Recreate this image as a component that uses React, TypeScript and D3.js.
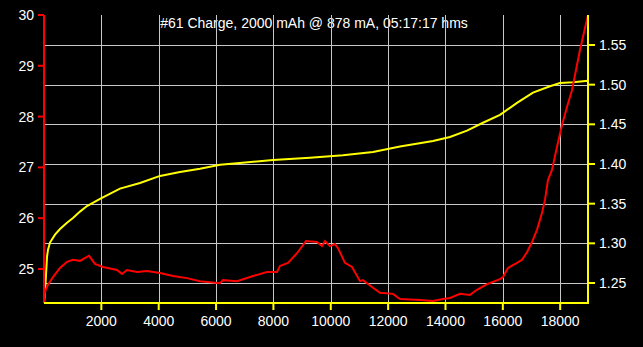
import React, { useEffect, useRef } from "react";
import { select, scaleLinear, line } from "d3";

const W = 643;
const H = 347;

const title = "#61 Charge, 2000 mAh @ 878 mA, 05:17:17 hms";

// time in seconds
const timeTicks = [2000, 4000, 6000, 8000, 10000, 12000, 14000, 16000, 18000];
const tempTicks = [25, 26, 27, 28, 29, 30];
const voltTicks = [1.25, 1.3, 1.35, 1.4, 1.45, 1.5, 1.55];

// voltage curve (yellow, right axis)
const voltTime = [
  0, 35, 105, 140, 209, 384, 558, 802, 1011, 1255, 1499, 1953, 2650, 3348, 4045,
  4742, 5440, 6137, 6730, 7985, 9275, 10426, 11472, 12414, 13564, 14157, 14750,
  15308, 15901, 16494, 17052, 17644, 17993, 18446, 18970,
];
const voltValues = [
  1.225, 1.238, 1.283, 1.292, 1.301, 1.311, 1.318, 1.326, 1.332, 1.34, 1.347,
  1.356, 1.369, 1.376, 1.385, 1.39, 1.394, 1.399, 1.401, 1.405, 1.408, 1.411,
  1.415, 1.422, 1.429, 1.434, 1.442, 1.452, 1.462, 1.477, 1.49, 1.498, 1.502,
  1.503, 1.505,
];

// temperature curve (red, left axis)
const tempTime = [
  0, 35, 139, 314, 558, 802, 1011, 1255, 1499, 1569, 1778, 2057, 2546, 2720,
  2894, 3243, 3592, 4045, 4498, 4986, 5440, 6137, 6242, 6730, 7288, 7776, 8125,
  8230, 8508, 8822, 9136, 9520, 9694, 9799, 9973, 10147, 10252, 10496, 10740,
  11019, 11123, 11472, 11716, 12170, 12414, 13111, 13564, 13913, 14157, 14506,
  14855, 15099, 15448, 15901, 16006, 16180, 16494, 16668, 16842, 17017, 17191,
  17365, 17470, 17574, 17714, 17888, 18063, 18237, 18411, 18690, 18970,
];
const tempValues = [
  24.39, 24.55, 24.69, 24.84, 25.02, 25.14, 25.18, 25.16, 25.24, 25.26, 25.1,
  25.04, 24.98, 24.9, 24.98, 24.94, 24.96, 24.92, 24.86, 24.82, 24.76, 24.72,
  24.78, 24.76, 24.86, 24.94, 24.94, 25.06, 25.12, 25.31, 25.55, 25.53, 25.45,
  25.55, 25.45, 25.49, 25.41, 25.12, 25.04, 24.76, 24.78, 24.63, 24.53, 24.51,
  24.41, 24.39, 24.37, 24.41, 24.43, 24.51, 24.49, 24.59, 24.7, 24.8, 24.84,
  25.02, 25.12, 25.18, 25.33, 25.53, 25.77, 26.1, 26.36, 26.75, 26.95, 27.4,
  27.83, 28.19, 28.52, 29.31, 30.0,
];

function App() {
  const svgRef = useRef<SVGSVGElement>(null);

  useEffect(() => {
    const svg = select(svgRef.current);
    svg.selectAll("*").remove();

    const left = 44;
    const right = 588;
    const top = 15;
    const bottom = 303;

    const x = scaleLinear().domain([0, 18970]).range([left, right]);
    const yT = scaleLinear().domain([24.33, 30]).range([bottom, top]);
    const yV = scaleLinear().domain([1.2248, 1.5878]).range([bottom, top]);

    svg.append("rect").attr("width", W).attr("height", H).attr("fill", "#000");

    svg
      .append("text")
      .attr("x", 314)
      .attr("y", 28)
      .attr("text-anchor", "middle")
      .attr("fill", "#fff")
      .style("font", "14px 'Liberation Sans', Arial, sans-serif")
      .text(title);

    // grid
    const grid = svg.append("g").attr("stroke", "#c8c8c8").attr("stroke-width", 1);
    timeTicks.forEach((t) => {
      const px = Math.round(x(t)) + 0.5;
      grid.append("line").attr("x1", px).attr("x2", px).attr("y1", top).attr("y2", bottom);
    });
    voltTicks.forEach((v) => {
      const py = Math.round(yV(v)) + 0.5;
      grid.append("line").attr("x1", left).attr("x2", right).attr("y1", py).attr("y2", py);
    });

    // curves
    const vData = voltTime.map((t, i) => [t, voltValues[i]] as [number, number]);
    const tData = tempTime.map((t, i) => [t, tempValues[i]] as [number, number]);

    svg
      .append("path")
      .datum(vData)
      .attr("fill", "none")
      .attr("stroke", "#ffff00")
      .attr("stroke-width", 2)
      .attr("d", line<[number, number]>().x((d) => x(d[0])).y((d) => yV(d[1])));

    svg
      .append("path")
      .datum(tData)
      .attr("fill", "none")
      .attr("stroke", "#ff0000")
      .attr("stroke-width", 2)
      .attr("d", line<[number, number]>().x((d) => x(d[0])).y((d) => yT(d[1])));

    const font = "14px 'Liberation Sans', Arial, sans-serif";

    // left axis (red)
    svg.append("line").attr("x1", left).attr("x2", left).attr("y1", top).attr("y2", bottom)
      .attr("stroke", "#ff0000").attr("stroke-width", 2);
    tempTicks.forEach((v) => {
      const py = yT(v);
      svg.append("line").attr("x1", left - 6).attr("x2", left).attr("y1", py).attr("y2", py)
        .attr("stroke", "#ff0000").attr("stroke-width", 2);
      svg.append("text").attr("x", left - 10).attr("y", py + 5).attr("text-anchor", "end")
        .attr("fill", "#fff").style("font", font).text(String(v));
    });

    // right axis (yellow)
    svg.append("line").attr("x1", right).attr("x2", right).attr("y1", top).attr("y2", bottom + 1)
      .attr("stroke", "#ffff00").attr("stroke-width", 2);
    voltTicks.forEach((v) => {
      const py = yV(v);
      svg.append("line").attr("x1", right).attr("x2", right + 7).attr("y1", py).attr("y2", py)
        .attr("stroke", "#ffff00").attr("stroke-width", 2);
      svg.append("text").attr("x", right + 11).attr("y", py + 5)
        .attr("fill", "#fff").style("font", font).text(v.toFixed(2));
    });

    // bottom axis (yellow)
    svg.append("line").attr("x1", left).attr("x2", right + 1).attr("y1", bottom).attr("y2", bottom)
      .attr("stroke", "#ffff00").attr("stroke-width", 2);
    timeTicks.forEach((t) => {
      const px = x(t);
      svg.append("line").attr("x1", px).attr("x2", px).attr("y1", bottom).attr("y2", bottom + 7)
        .attr("stroke", "#ffff00").attr("stroke-width", 2);
      svg.append("text").attr("x", px).attr("y", bottom + 23).attr("text-anchor", "middle")
        .attr("fill", "#fff").style("font", font).text(String(t));
    });
  }, []);

  return (
    <div style={{ position: "fixed", left: 0, top: 0, width: W, height: H, background: "#000" }}>
      <svg width={W} height={H} ref={svgRef} style={{ display: "block" }}></svg>
    </div>
  );
}

export default App;
